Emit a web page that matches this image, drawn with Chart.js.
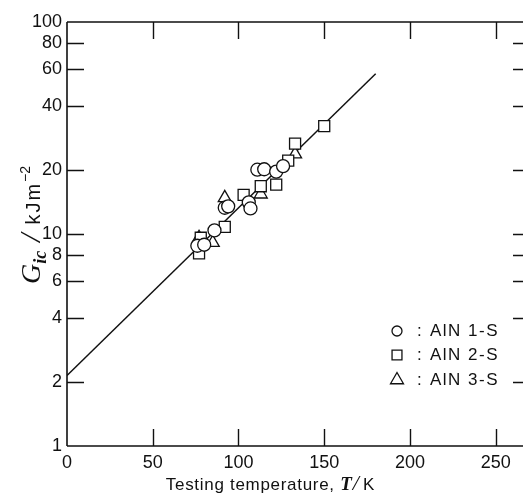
<!DOCTYPE html>
<html>
<head>
<meta charset="utf-8">
<script src="https://cdn.jsdelivr.net/npm/chart.js@4.4.1/dist/chart.umd.min.js"></script>
<style>
  html, body { margin: 0; padding: 0; background: #fff; overflow: hidden; }
  #wrap { width: 523px; height: 500px; overflow: hidden; }
  #c { display: block; }
</style>
</head>
<body>
<div id="wrap"><canvas id="c" width="530" height="500"></canvas></div>
<script>
// ---- data ----
const xTickValues = [0, 50, 100, 150, 200, 250];
const yTickValues = [1, 2, 4, 6, 8, 10, 20, 40, 60, 80, 100];

const fitT = [0, 180];
const fitG = [2.15, 57];

const aln1T = [76, 80, 86, 92, 94, 106, 107, 111, 115, 122, 126];
const aln1G = [8.8, 8.9, 10.4, 13.3, 13.5, 14.1, 13.2, 20.1, 20.2, 19.7, 20.9];

const aln2T = [77, 78, 92, 103, 113, 122, 129, 133, 150];
const aln2G = [8.1, 9.6, 10.8, 15.3, 16.8, 17.1, 22.2, 26.7, 32.3];

const aln3T = [77, 85, 92, 113, 133];
const aln3G = [9.6, 9.1, 14.8, 15.4, 23.8];

const seriesNames = ['AlN 1-S', 'AlN 2-S', 'AlN 3-S'];
const seriesStyles = ['circle', 'rect', 'triangle'];

const pts = (xs, ys) => xs.map((x, i) => ({x: x, y: ys[i]}));

const SANS = '"Liberation Sans", Arial, Helvetica, sans-serif';
const SERIF = '"Liberation Serif", "Times New Roman", serif';

function drawMarker(ctx, style, x, y, r) {
  ctx.beginPath();
  if (style === 'circle') {
    ctx.arc(x, y, r, 0, Math.PI * 2);
  } else if (style === 'rect') {
    const s = r * Math.SQRT1_2;
    ctx.rect(x - s, y - s, 2 * s, 2 * s);
  } else {
    const w = r * Math.sqrt(3) / 2;
    ctx.moveTo(x, y - r);
    ctx.lineTo(x + w, y + r / 2);
    ctx.lineTo(x - w, y + r / 2);
    ctx.closePath();
  }
  ctx.fillStyle = '#fff';
  ctx.fill();
  ctx.stroke();
}

function segW(ctx, s) {
  ctx.font = s.font;
  ctx.letterSpacing = s.ls || '0px';
  const w = ctx.measureText(s.text).width;
  ctx.letterSpacing = '0px';
  return w + (s.dx || 0) + (s.after || 0);
}
function drawRich(ctx, segs, x, y) {
  let cx = x;
  for (const s of segs) {
    const w = segW(ctx, s);
    ctx.font = s.font;
    ctx.letterSpacing = s.ls || '0px';
    ctx.fillText(s.text, cx + (s.dx || 0), y + (s.dy || 0));
    ctx.letterSpacing = '0px';
    cx += w;
  }
}
function richWidth(ctx, segs) {
  return segs.reduce((acc, s) => acc + segW(ctx, s), 0);
}

const decor = {
  id: 'decor',
  afterDraw(chart) {
    const ctx = chart.ctx;
    const a = chart.chartArea;
    const xs = chart.scales.x, ys = chart.scales.y;
    ctx.save();
    ctx.strokeStyle = '#111';
    ctx.lineWidth = 1.6;
    ctx.beginPath();
    ctx.moveTo(a.left, a.top); ctx.lineTo(a.right, a.top);
    ctx.moveTo(a.left, a.top); ctx.lineTo(a.left, a.bottom);
    ctx.moveTo(a.left, a.bottom); ctx.lineTo(a.right, a.bottom);
    ctx.moveTo(a.right, a.top); ctx.lineTo(a.right, a.bottom);
    ctx.stroke();
    // inward ticks
    const TL = 17;
    ctx.lineWidth = 1.4;
    ctx.beginPath();
    xTickValues.forEach(v => {
      if (v === xs.min) return;
      const px = Math.round(xs.getPixelForValue(v)) + 0.5;
      ctx.moveTo(px, a.bottom); ctx.lineTo(px, a.bottom - TL);
      ctx.moveTo(px, a.top); ctx.lineTo(px, a.top + TL);
    });
    yTickValues.forEach(v => {
      if (v === ys.min || v === ys.max) return;
      const py = Math.round(ys.getPixelForValue(v)) + 0.5;
      ctx.moveTo(a.left, py); ctx.lineTo(a.left + TL, py);
      ctx.moveTo(a.right, py); ctx.lineTo(a.right - TL, py);
    });
    ctx.stroke();

    // x axis title
    ctx.fillStyle = '#111';
    ctx.textBaseline = 'alphabetic';
    ctx.textAlign = 'left';
    const xt = [
      {text: 'Testing temperature, ', font: '17px ' + SANS, ls: '0.7px'},
      {text: 'T', font: 'italic bold 19px ' + SERIF},
      {text: '/', font: 'italic 22px ' + SERIF, dx: 1, after: 4},
      {text: 'K', font: '17px ' + SANS}
    ];
    const xw = richWidth(ctx, xt);
    drawRich(ctx, xt, 270 - xw / 2, 490);

    // y axis title (rotated)
    const yt = [
      {text: 'G', font: 'italic 28px ' + SERIF},
      {text: 'ic', font: 'italic bold 18px ' + SERIF, dy: 6, after: 9},
      {text: '/', font: 'italic 30px ' + SERIF, after: 9},
      {text: 'kJm', font: '20px ' + SANS, ls: '2px'},
      {text: '\u22122', font: '14px ' + SANS, dy: -10}
    ];
    const yw = richWidth(ctx, yt);
    ctx.save();
    ctx.translate(40, 225);
    ctx.rotate(-Math.PI / 2);
    drawRich(ctx, yt, -yw / 2, 0);
    ctx.restore();

    // legend
    const lx = a.left + 330, rows = [a.top + 309, a.top + 333, a.top + 358];
    const radii = [5, 7, 7.5];
    ctx.lineWidth = 1.3;
    ctx.strokeStyle = '#111';
    seriesNames.forEach((name, i) => {
      drawMarker(ctx, seriesStyles[i], lx, rows[i], radii[i]);
      ctx.fillStyle = '#111';
      ctx.font = '17px ' + SANS;
      ctx.textBaseline = 'middle';
      ctx.letterSpacing = '0px';
      ctx.fillText(':', lx + 20, rows[i]);
      ctx.letterSpacing = '1.5px';
      ctx.fillText(name, lx + 33, rows[i]);
      ctx.letterSpacing = '0px';
    });
    ctx.restore();
  }
};

const scatterCommon = {
  borderColor: '#111',
  backgroundColor: '#fff',
  borderWidth: 1.3,
  showLine: false
};

new Chart(document.getElementById('c'), {
  type: 'scatter',
  data: {
    datasets: [
      {
        type: 'line', label: 'fit', data: pts(fitT, fitG),
        borderColor: '#111', borderWidth: 1.5, pointRadius: 0, fill: false, order: 10
      },
      Object.assign({label: seriesNames[2], data: pts(aln3T, aln3G), pointStyle: 'triangle', pointRadius: 7.5, order: 3}, scatterCommon),
      Object.assign({label: seriesNames[1], data: pts(aln2T, aln2G), pointStyle: 'rect', pointRadius: 7.8, order: 2}, scatterCommon),
      Object.assign({label: seriesNames[0], data: pts(aln1T, aln1G), pointStyle: 'circle', pointRadius: 6.5, order: 1}, scatterCommon)
    ]
  },
  options: {
    responsive: false,
    animation: false,
    devicePixelRatio: 1,
    layout: {autoPadding: false, padding: {top: 22, right: 0, bottom: 0, left: 0}},
    plugins: {legend: {display: false}, tooltip: {enabled: false}},
    scales: {
      x: {
        type: 'linear', min: 0, max: 270,
        grid: {display: false, drawTicks: false},
        border: {display: false},
        ticks: {color: '#111', font: {family: SANS, size: 18}, padding: 6, maxRotation: 0,
                callback: v => String(v)},
        afterBuildTicks: s => { s.ticks = xTickValues.map(v => ({value: v})); },
        afterFit: s => { s.height = 54; s.paddingLeft = 0; s.paddingRight = 0; }
      },
      y: {
        type: 'logarithmic', min: 1, max: 100,
        grid: {display: false, drawTicks: false},
        border: {display: false},
        ticks: {color: '#111', font: {family: SANS, size: 18}, padding: 5,
                callback: v => String(v)},
        afterBuildTicks: s => { s.ticks = yTickValues.map(v => ({value: v})); },
        afterFit: s => { s.width = 67; }
      }
    }
  },
  plugins: [decor]
});
</script>
</body>
</html>
